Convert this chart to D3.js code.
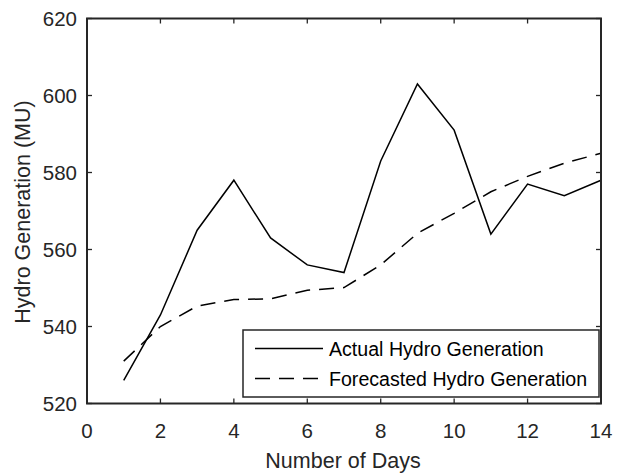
<!DOCTYPE html>
<html>
<head>
<meta charset="utf-8">
<script src="https://cdn.jsdelivr.net/npm/d3@7"></script>
<style>
  body { margin: 0; background: #fff; }
  svg { display: block; font-family: "Liberation Sans", Arial, sans-serif; }
</style>
</head>
<body>
<svg width="623" height="475"></svg>
<script>
// data
const days = [1, 2, 3, 4, 5, 6, 7, 8, 9, 10, 11, 12, 13, 14];
const actual = [526, 543, 565, 578, 563, 556, 554, 583, 603, 591, 564, 577, 574, 578];
const forecast = [531, 540, 545.3, 547, 547.2, 549.4, 550.1, 556, 564.2, 569.4, 575, 579, 582.4, 585];
const xTicks = [0, 2, 4, 6, 8, 10, 12, 14];
const yTicks = [520, 540, 560, 580, 600, 620];

const axisColor = "#262626";
const tickFont = 20.5;
const labelFont = 21.5;
const legendFont = 19.6;

const svg = d3.select("svg");
const plotLeft = 87, plotRight = 601, plotTop = 18.5, plotBottom = 403.5;

const x = d3.scaleLinear().domain([0, 14]).range([plotLeft, plotRight]);
const y = d3.scaleLinear().domain([520, 620]).range([plotBottom, plotTop]);

// ticks point inward and are mirrored on the top and right
const g = svg.append("g");
xTicks.forEach((t) => {
  g.append("line")
    .attr("x1", x(t)).attr("x2", x(t))
    .attr("y1", plotBottom).attr("y2", plotBottom - 5)
    .attr("stroke", axisColor).attr("stroke-width", 1.3);
  g.append("line")
    .attr("x1", x(t)).attr("x2", x(t))
    .attr("y1", plotTop).attr("y2", plotTop + 5)
    .attr("stroke", axisColor).attr("stroke-width", 1.3);
  g.append("text")
    .attr("x", x(t)).attr("y", plotBottom + 34)
    .attr("text-anchor", "middle")
    .attr("font-size", tickFont)
    .attr("fill", axisColor)
    .text(t);
});
yTicks.forEach((t) => {
  g.append("line")
    .attr("x1", plotLeft).attr("x2", plotLeft + 5)
    .attr("y1", y(t)).attr("y2", y(t))
    .attr("stroke", axisColor).attr("stroke-width", 1.3);
  g.append("line")
    .attr("x1", plotRight).attr("x2", plotRight - 5)
    .attr("y1", y(t)).attr("y2", y(t))
    .attr("stroke", axisColor).attr("stroke-width", 1.3);
  g.append("text")
    .attr("x", plotLeft - 10).attr("y", y(t) + 7.3)
    .attr("text-anchor", "end")
    .attr("font-size", tickFont)
    .attr("fill", axisColor)
    .text(t);
});

// data lines
const line = d3.line().x((d, i) => x(days[i])).y((d) => y(d));

svg.append("path")
  .datum(forecast)
  .attr("d", line)
  .attr("fill", "none")
  .attr("stroke", "#000")
  .attr("stroke-width", 1.5)
  .attr("stroke-dasharray", "15,9");

svg.append("path")
  .datum(actual)
  .attr("d", line)
  .attr("fill", "none")
  .attr("stroke", "#000")
  .attr("stroke-width", 1.5);

// axes box
svg.append("rect")
  .attr("x", plotLeft).attr("y", plotTop)
  .attr("width", plotRight - plotLeft).attr("height", plotBottom - plotTop)
  .attr("fill", "none")
  .attr("stroke", axisColor)
  .attr("stroke-width", 2);

// axis labels
svg.append("text")
  .attr("x", 343).attr("y", 468)
  .attr("text-anchor", "middle")
  .attr("font-size", labelFont)
  .attr("fill", axisColor)
  .text("Number of Days");

svg.append("text")
  .attr("transform", `translate(30,212) rotate(-90)`)
  .attr("text-anchor", "middle")
  .attr("font-size", labelFont)
  .attr("fill", axisColor)
  .text("Hydro Generation (MU)");

// legend
const legendItems = [
  { label: "Actual Hydro Generation", dash: null },
  { label: "Forecasted Hydro Generation", dash: "15,9" },
];
const lg = svg.append("g");
lg.append("rect")
  .attr("x", 243).attr("y", 330)
  .attr("width", 356).attr("height", 67)
  .attr("fill", "#fff")
  .attr("stroke", axisColor)
  .attr("stroke-width", 1.5);
legendItems.forEach((d, i) => {
  const ly = 348.5 + i * 30;
  lg.append("line")
    .attr("x1", 255).attr("x2", 323)
    .attr("y1", ly).attr("y2", ly)
    .attr("stroke", "#000")
    .attr("stroke-width", 1.5)
    .attr("stroke-dasharray", d.dash);
  lg.append("text")
    .attr("x", 329).attr("y", ly + 7.5)
    .attr("font-size", legendFont)
    .attr("fill", "#000")
    .text(d.label);
});
</script>
</body>
</html>
